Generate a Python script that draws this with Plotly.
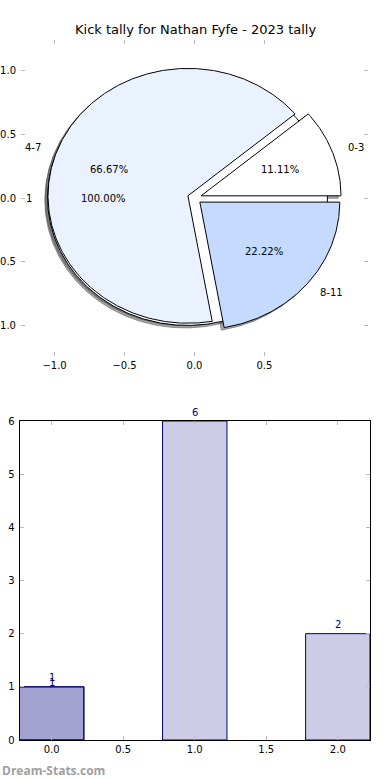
import numpy as np
import plotly.graph_objects as go

# ---------------- data ----------------
title_text = "Kick tally for Nathan Fyfe - 2023 tally"
slice_labels = ["0-3", "4-7", "8-11"]
slice_values = [1, 6, 2]
slice_colors = ["#ffffff", "#ebf2ff", "#c6d9ff"]
slice_explode = [0.05, 0.05, 0.05]

total_labels = ["1"]
total_values = [1]
total_colors = ["#ffffff"]
total_explode = [0.05]

bar_x = [0, 1, 2]
bar_values = [1, 6, 2]
first_x = [0]
first_values = [1]

pie_xticks = [-1.0, -0.5, 0.0, 0.5]
pie_yticks = [-1.0, -0.5, 0.0, 0.5, 1.0]
bar_xticks = [0.0, 0.5, 1.0, 1.5, 2.0]
bar_yticks = [0, 1, 2, 3, 4, 5, 6]

W, H = 390, 780
FONT = "DejaVu Sans"


def fmt(v):
    s = f"{v:.1f}"
    return s.replace("-", "\u2212")


def wedges(values, explode, start=0.0):
    total = float(sum(values))
    out = []
    a0 = start
    for v, e in zip(values, explode):
        a1 = a0 + 360.0 * v / total
        mid = np.deg2rad((a0 + a1) / 2.0)
        cx, cy = e * np.cos(mid), e * np.sin(mid)
        n = max(int((a1 - a0) * 2), 16)
        th = np.deg2rad(np.linspace(a0, a1, n))
        if a1 - a0 >= 359.999:
            xs = list(cx + np.cos(th))
            ys = list(cy + np.sin(th))
        else:
            xs = [cx] + list(cx + np.cos(th)) + [cx]
            ys = [cy] + list(cy + np.sin(th)) + [cy]
        out.append(dict(xs=xs, ys=ys, cx=cx, cy=cy, mid=mid, pct=100.0 * v / total))
        a0 = a1
    return out


fig = go.Figure()

total_w = wedges(total_values, total_explode)
slice_w = wedges(slice_values, slice_explode)

# shadows
for w in total_w + slice_w:
    fig.add_trace(go.Scatter(
        x=[x - 0.02 for x in w["xs"]], y=[y - 0.02 for y in w["ys"]],
        mode="lines", fill="toself", fillcolor="rgba(77,77,77,0.5)",
        line=dict(color="rgba(77,77,77,0.5)", width=1),
        hoverinfo="skip", showlegend=False, xaxis="x", yaxis="y"))

# wedges
for w, c in list(zip(total_w, total_colors)) + list(zip(slice_w, slice_colors)):
    fig.add_trace(go.Scatter(
        x=w["xs"], y=w["ys"], mode="lines", fill="toself", fillcolor=c,
        line=dict(color="black", width=1),
        hoverinfo="skip", showlegend=False, xaxis="x", yaxis="y"))

annotations = []
for w, lab in list(zip(total_w, total_labels)) + list(zip(slice_w, slice_labels)):
    xt = w["cx"] + 1.1 * np.cos(w["mid"])
    yt = w["cy"] + 1.1 * np.sin(w["mid"])
    annotations.append(dict(
        x=xt, y=yt, xref="x", yref="y", text=lab, showarrow=False,
        xanchor="left" if xt > 0 else "right", yanchor="middle",
        font=dict(family=FONT, size=10, color="black")))
    xp = w["cx"] + 0.6 * np.cos(w["mid"])
    yp = w["cy"] + 0.6 * np.sin(w["mid"])
    annotations.append(dict(
        x=xp, y=yp, xref="x", yref="y", text=f"{w['pct']:.2f}%", showarrow=False,
        xanchor="center", yanchor="middle",
        font=dict(family=FONT, size=10, color="black")))

# bars
bar_fill = "rgba(0,0,128,0.2)"
fig.add_trace(go.Bar(
    x=first_x, y=first_values, width=0.45, marker=dict(color=bar_fill, line=dict(color="#000080", width=1)),
    hoverinfo="skip", showlegend=False, xaxis="x2", yaxis="y2"))
fig.add_trace(go.Bar(
    x=bar_x, y=bar_values, width=0.45, marker=dict(color=bar_fill, line=dict(color="#000080", width=1)),
    hoverinfo="skip", showlegend=False, xaxis="x2", yaxis="y2"))

for xv, yv in zip(bar_x, bar_values):
    annotations.append(dict(
        x=xv, y=yv, xref="x2", yref="y2", text=str(yv), showarrow=False,
        xanchor="center", yanchor="middle", yshift=9,
        font=dict(family=FONT, size=10, color="#000080")))
for xv, yv in zip(first_x, first_values):
    annotations.append(dict(
        x=xv, y=yv, xref="x2", yref="y2", text=str(yv), showarrow=False,
        xanchor="center", yanchor="middle", yshift=4,
        font=dict(family=FONT, size=10, color="#000080")))

# title and watermark
annotations.append(dict(
    x=195 / W, y=1 - 30 / H, xref="paper", yref="paper", text=title_text,
    showarrow=False, xanchor="center", yanchor="middle",
    font=dict(family=FONT, size=13, color="black")))
annotations.append(dict(
    x=0, y=1 - 770 / H, xref="paper", yref="paper", text="<b>Dream-Stats.com</b>",
    showarrow=False, xanchor="left", yanchor="middle",
    font=dict(family="Open Sans", size=12, color="rgb(160,160,160)")))

tick_common = dict(
    ticks="inside", ticklen=4, tickwidth=1, tickcolor="#bbbbbb",
    showgrid=False, zeroline=False, automargin=False,
    tickfont=dict(family=FONT, size=10, color="black"))

fig.update_layout(
    width=W, height=H, template="none",
    margin=dict(l=0, r=0, t=0, b=0),
    paper_bgcolor="white", plot_bgcolor="white",
    hovermode=False, showlegend=False, barmode="overlay",
    annotations=annotations,
    xaxis=dict(domain=[21 / W, 368 / W], range=[-1.24, 1.24],
               tickmode="array", tickvals=pie_xticks, ticktext=[fmt(v) for v in pie_xticks],
               showline=False, mirror="ticks", anchor="y", ticklabelstandoff=2, **tick_common),
    yaxis=dict(domain=[1 - 356 / H, 1 - 40 / H], range=[-1.24, 1.24],
               tickmode="array", tickvals=pie_yticks, ticktext=[fmt(v) for v in pie_yticks],
               showline=False, mirror="ticks", anchor="x", ticklabelstandoff=4, **tick_common),
    xaxis2=dict(domain=[19.5 / W, 370 / W], range=[-0.225, 2.225],
                tickmode="array", tickvals=bar_xticks, ticktext=[fmt(v) for v in bar_xticks],
                showline=True, linecolor="black", linewidth=1, mirror="allticks", anchor="y2", **tick_common),
    yaxis2=dict(domain=[1 - 740 / H, 1 - 421 / H], range=[0, 6],
                tickmode="array", tickvals=bar_yticks, ticktext=[str(v) for v in bar_yticks],
                showline=True, linecolor="black", linewidth=1, mirror="allticks", anchor="x2",
                ticklabelstandoff=2, **tick_common),
)

fig.write_html("out.html", config={"displayModeBar": False},
               post_script="document.body.style.margin='0';")
